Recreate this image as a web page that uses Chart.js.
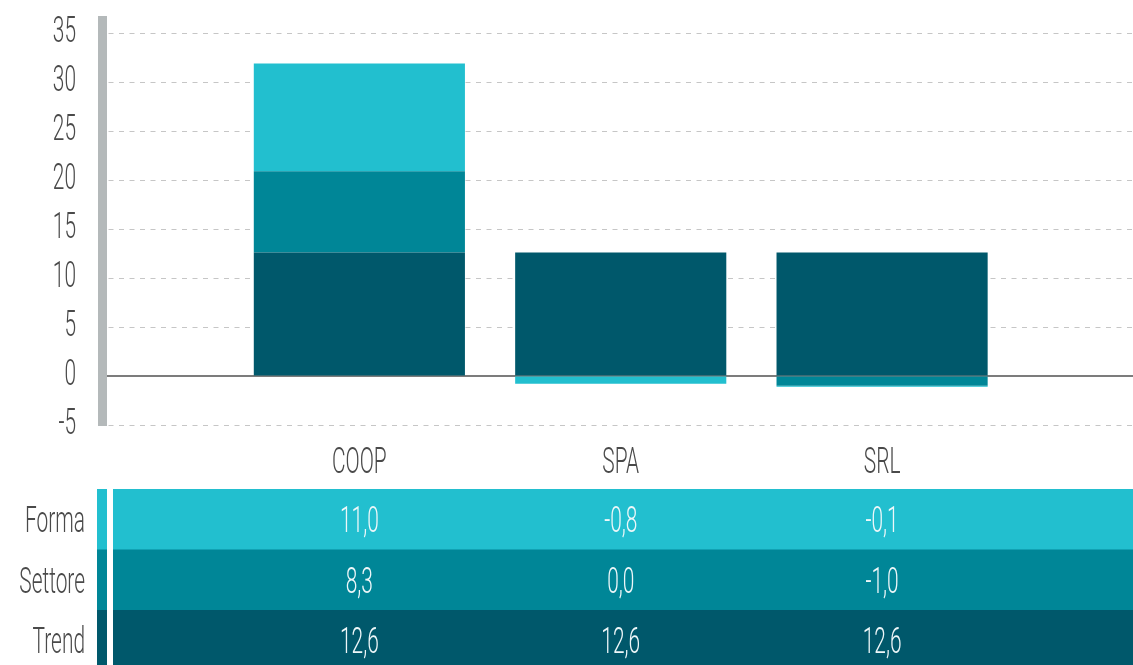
<!DOCTYPE html>
<html lang="it">
<head>
<meta charset="utf-8">
<title>Scomposizione per forma giuridica</title>
<script src="https://cdn.jsdelivr.net/npm/chart.js@4.4.1/dist/chart.umd.min.js"></script>
<style>
  html, body { margin: 0; padding: 0; background: #ffffff; overflow: hidden; }
  #wrap { width: 1133px; height: 665px; position: relative; }
  canvas { display: block; }
</style>
</head>
<body>
<div id="wrap"><canvas id="chart" width="1133" height="665"></canvas></div>
<script>
// Categorie e componenti (valori in punti)
const categories = ['COOP', 'SPA', 'SRL'];
const trend   = [12.6, 12.6, 12.6];
const settore = [8.3, 0.0, -1.0];
const forma   = [11.0, -0.8, -0.1];
const seriesNames = ['Trend', 'Settore', 'Forma'];
const tableRows = ['Forma', 'Settore', 'Trend'];

const COLORS = { Forma: '#22bfcf', Settore: '#008697', Trend: '#00586b' };
const FONT = '300 36px Roboto';
const SQUEEZE = 0.58;
const TEXT_GREY = '#4a4a4a';

const seriesByName = { Trend: trend, Settore: settore, Forma: forma };

function points(values) {
  return values.map((v, i) => ({ x: i + 1, y: v }));
}

function fmt(v) {
  return v.toFixed(1).replace('.', ',');
}

// Testo condensato orizzontalmente
function narrowText(ctx, text, x, y, align, color) {
  ctx.save();
  ctx.font = FONT;
  ctx.fillStyle = color;
  ctx.textAlign = align;
  ctx.textBaseline = 'alphabetic';
  ctx.translate(x, y);
  ctx.scale(SQUEEZE, 1);
  ctx.fillText(text, 0, 0);
  ctx.restore();
}

const decorations = {
  id: 'decorations',
  beforeDatasetsDraw(chart) {
    const { ctx, chartArea, scales } = chart;
    const y0 = scales.y.getPixelForValue(0);
    ctx.save();
    ctx.strokeStyle = '#7c7c7c';
    ctx.lineWidth = 2;
    ctx.beginPath();
    ctx.moveTo(chartArea.left, y0);
    ctx.lineTo(chartArea.right, y0);
    ctx.stroke();
    ctx.restore();
  },
  afterDatasetsDraw(chart) {
    const { ctx, chartArea } = chart;
    // asse verticale spesso
    ctx.save();
    ctx.fillStyle = '#b4b9ba';
    ctx.fillRect(chartArea.left, 16, 9, chartArea.bottom + 1 - 16);
    ctx.restore();
  },
  afterDraw(chart) {
    const { ctx, scales } = chart;
    const xs = scales.x, ys = scales.y;

    // etichette asse Y
    ys.ticks.forEach(t => {
      const py = ys.getPixelForValue(t.value);
      narrowText(ctx, String(t.value), 76, py + 9, 'right', TEXT_GREY);
    });

    // etichette categorie
    categories.forEach((c, i) => {
      narrowText(ctx, c, xs.getPixelForValue(i + 1), 473, 'center', TEXT_GREY);
    });

    // tabella dati
    const rowTop = 489, rowH = 60.5;
    tableRows.forEach((name, r) => {
      const top = rowTop + r * rowH;
      ctx.save();
      ctx.fillStyle = COLORS[name];
      ctx.fillRect(97, top, 10, rowH + 0.5);
      ctx.fillRect(113, top, chart.width - 113, rowH + 0.5);
      ctx.restore();
      const base = top + rowH / 2 + 13;
      narrowText(ctx, name, 85, base, 'right', TEXT_GREY);
      seriesByName[name].forEach((v, i) => {
        narrowText(ctx, fmt(v), xs.getPixelForValue(i + 1), base, 'center', '#eef7f9');
      });
    });
  }
};

new Chart(document.getElementById('chart'), {
  type: 'bar',
  data: {
    datasets: seriesNames.map(name => ({
      label: name,
      data: points(seriesByName[name]),
      backgroundColor: COLORS[name],
      borderWidth: 0,
      barPercentage: 0.935,
      categoryPercentage: 0.9
    }))
  },
  options: {
    responsive: false,
    animation: false,
    layout: { padding: { left: 98, right: 0, top: 33, bottom: 240 } },
    plugins: { legend: { display: false }, tooltip: { enabled: false } },
    scales: {
      x: {
        type: 'linear',
        min: 0,
        max: 3.96,
        offset: false,
        stacked: true,
        display: false,
        ticks: { stepSize: 1 }
      },
      y: {
        min: -5,
        max: 35,
        stacked: true,
        afterFit(scale) { scale.width = 0; },
        ticks: { display: false, stepSize: 5 },
        grid: { color: '#c6c6c6', lineWidth: 1, drawTicks: false },
        border: { display: false, dash: [5, 5.5] }
      }
    }
  },
  plugins: [decorations]
});
</script>
</body>
</html>
